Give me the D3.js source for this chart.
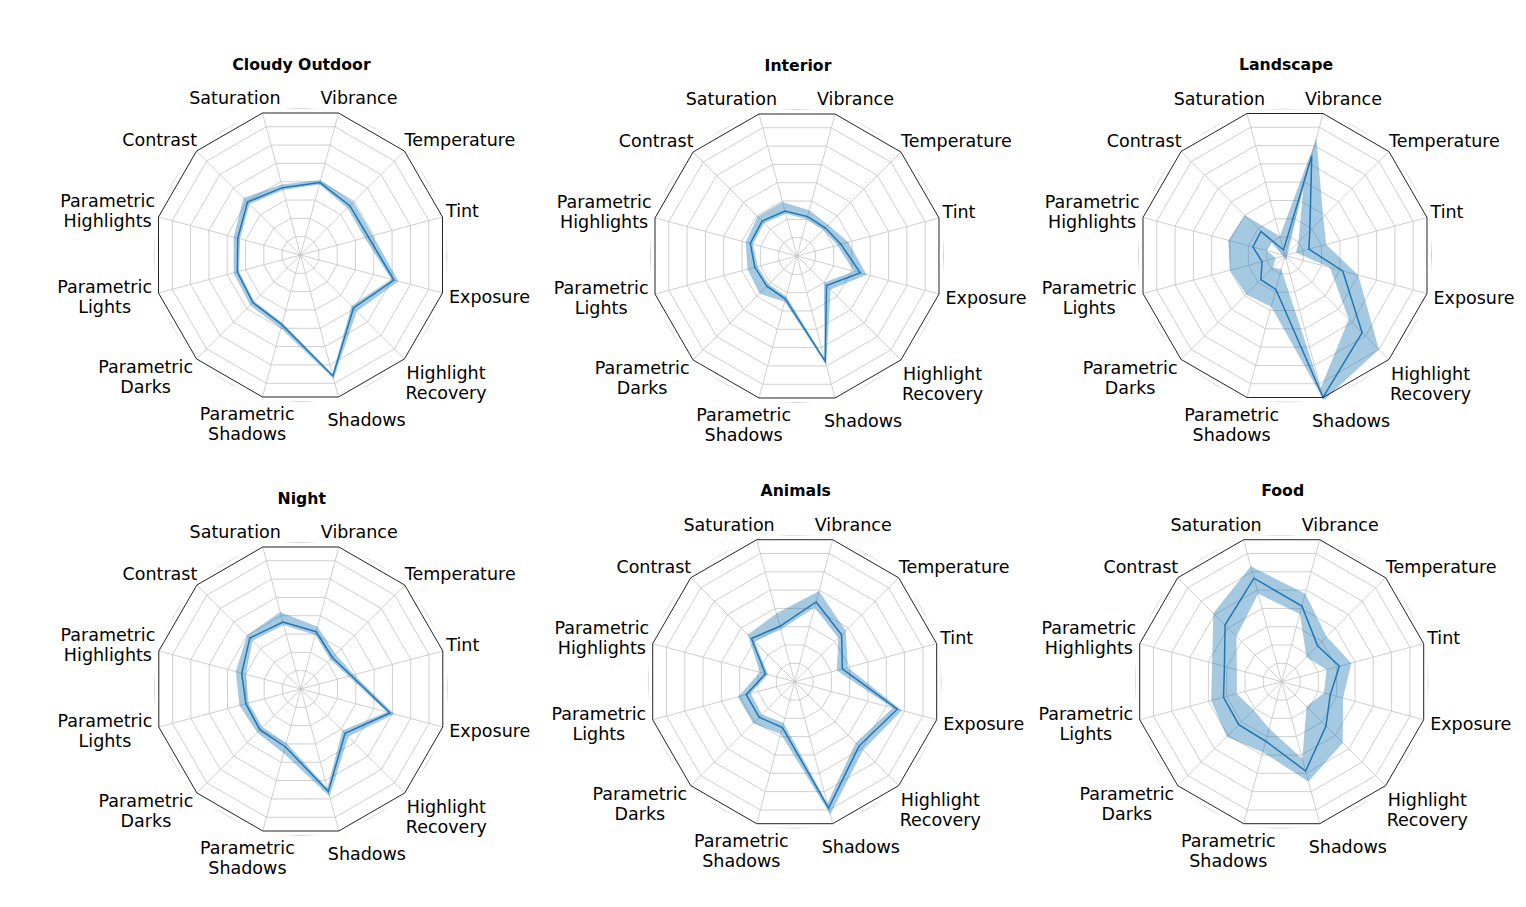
<!DOCTYPE html>
<html>
<head>
<meta charset="utf-8">
<script src="https://cdnjs.cloudflare.com/ajax/libs/d3/7.8.5/d3.min.js"></script>
<style>
  body { margin: 0; background: #fff; }
  text { font-family: "DejaVu Sans", sans-serif; fill: #000; }
</style>
</head>
<body>
<svg id="chart" width="1526" height="907"></svg>
<script>
// axis names, clockwise starting right of the top
var axisNames = ["Vibrance", "Temperature", "Tint", "Exposure", "Highlight\nRecovery", "Shadows",
  "Parametric\nShadows", "Parametric\nDarks", "Parametric\nLights", "Parametric\nHighlights", "Contrast", "Saturation"];
var gridTicks = [0.2, 0.4, 0.6, 0.8, 1.0, 1.2, 1.4, 1.6];
var panelTitles = ["Cloudy Outdoor", "Interior", "Landscape", "Night", "Animals", "Food"];

// mean / lower / upper per panel
var cloudyMean = [0.79, 0.735, 0.74, 1.02, 0.79, 1.32, 0.76, 0.71, 0.69, 0.685, 0.79, 0.735];
var cloudyLow  = [0.77, 0.70, 0.70, 0.99, 0.76, 1.30, 0.74, 0.69, 0.67, 0.66, 0.76, 0.71];
var cloudyHigh = [0.82, 0.79, 0.79, 1.07, 0.84, 1.35, 0.80, 0.75, 0.73, 0.73, 0.85, 0.77];

var interiorMean = [0.43, 0.42, 0.48, 0.69, 0.44, 1.15, 0.47, 0.45, 0.46, 0.51, 0.52, 0.49];
var interiorLow  = [0.40, 0.39, 0.44, 0.62, 0.40, 1.12, 0.44, 0.42, 0.43, 0.48, 0.49, 0.46];
var interiorHigh = [0.50, 0.465, 0.56, 0.76, 0.50, 1.19, 0.50, 0.56, 0.54, 0.56, 0.59, 0.59];

var landscapeMean = [1.09, 0.37, 0.26, 0.63, 1.15, 1.55, 0.37, 0.36, 0.25, 0.35, 0.36, 0.06];
var landscapeLow  = [0.75, 0.20, 0.12, 0.49, 0.95, 1.45, 0.15, 0.18, 0.10, 0.20, 0.20, -0.05];
var landscapeHigh = [1.28, 0.57, 0.45, 0.80, 1.40, 1.58, 0.56, 0.58, 0.60, 0.62, 0.60, 0.21];

var nightMean = [0.625, 0.47, 0.55, 0.975, 0.66, 1.12, 0.63, 0.61, 0.60, 0.645, 0.76, 0.73];
var nightLow  = [0.59, 0.44, 0.52, 0.94, 0.62, 1.08, 0.59, 0.57, 0.57, 0.60, 0.72, 0.70];
var nightHigh = [0.68, 0.52, 0.58, 1.02, 0.71, 1.17, 0.70, 0.65, 0.67, 0.71, 0.80, 0.84];

var animalsMean = [0.87, 0.70, 0.52, 1.12, 0.96, 1.38, 0.50, 0.53, 0.53, 0.32, 0.645, 0.605];
var animalsLow  = [0.81, 0.65, 0.46, 1.07, 0.91, 1.33, 0.45, 0.49, 0.48, 0.29, 0.60, 0.57];
var animalsHigh = [0.99, 0.76, 0.58, 1.17, 1.02, 1.45, 0.57, 0.62, 0.62, 0.38, 0.70, 0.745];

var foodMean = [0.825, 0.535, 0.63, 0.53, 0.66, 0.975, 0.65, 0.64, 0.635, 0.625, 0.845, 1.13];
var foodLow  = [0.74, 0.37, 0.49, 0.46, 0.37, 0.84, 0.51, 0.42, 0.49, 0.49, 0.675, 0.96];
var foodHigh = [0.96, 0.67, 0.76, 0.67, 0.91, 1.09, 0.77, 0.82, 0.77, 0.76, 1.02, 1.26];

var panels = [
  { title: panelTitles[0], mean: cloudyMean, low: cloudyLow, high: cloudyHigh },
  { title: panelTitles[1], mean: interiorMean, low: interiorLow, high: interiorHigh },
  { title: panelTitles[2], mean: landscapeMean, low: landscapeLow, high: landscapeHigh },
  { title: panelTitles[3], mean: nightMean, low: nightLow, high: nightHigh },
  { title: panelTitles[4], mean: animalsMean, low: animalsLow, high: animalsHigh },
  { title: panelTitles[5], mean: foodMean, low: foodLow, high: foodHigh }
];

// layout
var centers = [[300.5, 255], [797, 256], [1285, 255.5], [300.8, 689], [794.7, 681.7], [1281.7, 681.7]];
var R = 147;
// label block: aligned edge x and vertical centre, relative to panel centre
var labelDx = [20, 104, 145.5, 148.5, 105, 27, -6, -107.5, -148.5, -145.5, -103.5, -20];
var labelDy = [-157, -115, -44, 42, 128, 165, 169, 122, 42, -44, -115, -157];

var blue = "#1f77b4";
var gridColor = "#c3c3c3";

var svg = d3.select("#chart");

svg.append("defs").append("clipPath")
  .attr("id", "circleClip")
  .append("circle")
  .attr("r", R);

var r = d3.scaleLinear().domain([0, 1.55]).range([0, R]);
var angle = d3.scaleLinear().domain([0, axisNames.length]).range([Math.PI / 12, Math.PI / 12 + 2 * Math.PI]);
var idx = d3.range(axisNames.length);

var ring = d3.lineRadial()
  .angle(function (d) { return angle(d.i); })
  .radius(function (d) { return r(d.v); })
  .curve(d3.curveLinearClosed);

function drawPanel(p, k) {
  var g = svg.append("g")
    .attr("transform", "translate(" + centers[k][0] + "," + centers[k][1] + ")");

  // gridlines (polygons), clipped to the circle through the frame vertices
  g.append("g")
    .attr("clip-path", "url(#circleClip)")
    .selectAll("path")
    .data(gridTicks)
    .enter()
    .append("path")
    .attr("d", function (t) { return ring(idx.map(function (i) { return { i: i, v: t }; })); })
    .attr("fill", "none")
    .attr("stroke", gridColor)
    .attr("stroke-width", 0.8);

  // spokes
  g.selectAll(".spoke")
    .data(idx)
    .enter()
    .append("line")
    .attr("class", "spoke")
    .attr("x1", 0).attr("y1", 0)
    .attr("x2", function (i) { return R * Math.sin(angle(i)); })
    .attr("y2", function (i) { return -R * Math.cos(angle(i)); })
    .attr("stroke", gridColor)
    .attr("stroke-width", 0.8);

  // band between lower and upper
  var upper = ring(idx.map(function (i) { return { i: i, v: p.high[i] }; }));
  var lower = ring(idx.map(function (i) { return { i: i, v: p.low[i] }; }));
  g.append("path")
    .attr("d", upper + lower)
    .attr("fill", blue)
    .attr("fill-opacity", 0.4)
    .attr("fill-rule", "evenodd")
    .attr("stroke", "none");

  // mean line
  g.append("path")
    .attr("d", ring(idx.map(function (i) { return { i: i, v: p.mean[i] }; })))
    .attr("fill", "none")
    .attr("stroke", blue)
    .attr("stroke-width", 1.5);

  // polygon frame
  g.append("path")
    .attr("d", ring(idx.map(function (i) { return { i: i, v: 1.55 }; })))
    .attr("fill", "none")
    .attr("stroke", "#222")
    .attr("stroke-width", 1);

  // axis labels
  idx.forEach(function (i) {
    var lines = axisNames[i].split("\n");
    var t = g.append("text")
      .attr("font-size", "17.5px")
      .attr("text-anchor", "middle");
    var spans = lines.map(function (s, j) {
      return t.append("tspan")
        .attr("y", labelDy[i] + (j - (lines.length - 1) / 2) * 20 + 6)
        .text(s);
    });
    var w = d3.max(spans, function (s) { return s.node().getComputedTextLength(); });
    var cx = i < 6 ? labelDx[i] + w / 2 : labelDx[i] - w / 2;
    spans.forEach(function (s) { s.attr("x", cx); });
  });

  // title
  g.append("text")
    .attr("x", 1)
    .attr("y", -185.5)
    .attr("text-anchor", "middle")
    .attr("font-size", "15.7px")
    .attr("font-weight", "bold")
    .text(p.title);
}

panels.forEach(drawPanel);
</script>
</body>
</html>
